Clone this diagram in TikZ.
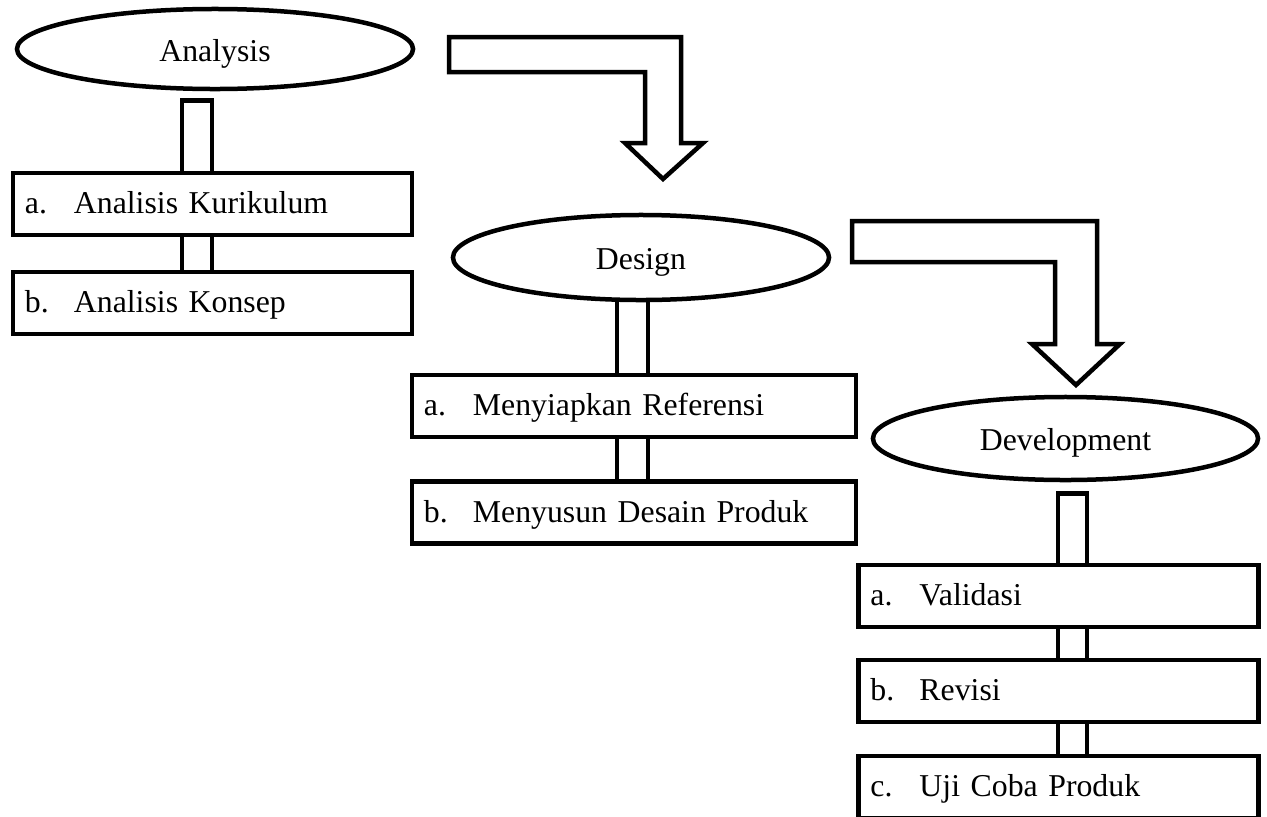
\documentclass[tikz,border=0pt]{standalone}
\usepackage{fontspec}
\setmainfont{Liberation Serif}
\usetikzlibrary{positioning, calc, shapes.geometric}

\newcommand{\steplabel}[2]{\makebox[1.225cm][l]{#1}#2}

\begin{document}
\begin{tikzpicture}[x=0.025cm,y=-0.025cm,line width=3.2pt,
  every node/.style={font=\fontsize{22.6}{27}\selectfont},
  phase/.style={ellipse,draw,inner sep=0pt,text height=0.6cm,text depth=0pt},
  stepbox/.style={rectangle,draw,inner ysep=0pt,inner xsep=0.3cm,minimum height=1.55cm,text height=0.475cm,text depth=0pt,text width=#1,align=left},
  bentarrow/.style={draw,line join=miter}]
\clip (0,0) rectangle (1267,816);
% Analysis
\node[phase,minimum width=9.9cm,minimum height=2cm] (ana) at (215,49) {Analysis};
\node[stepbox=9.375cm] (anaA) at (212.5,204) {\steplabel{a.}{Analisis Kurikulum}};
\node[stepbox=9.375cm] (anaB) at (212.5,303) {\steplabel{b.}{Analisis Konsep}};
\draw ($(anaA.north)+(-30.5,0)$) |- ($(ana.south)+(-3,9)$) -- ($(anaA.north)+(-0.5,0)$);
\draw ($(anaA.south)+(-30.5,0)$) -- ($(anaB.north)+(-30.5,0)$) ($(anaA.south)+(-0.5,0)$) -- ($(anaB.north)+(-0.5,0)$);
% Design
\node[phase,minimum width=9.4cm,minimum height=2.125cm] (des) at (641,257.5) {Design};
\node[stepbox=10.5cm] (desA) at (634,406) {\steplabel{a.}{Menyiapkan Referensi}};
\node[stepbox=10.5cm] (desB) at (634,512.5) {\steplabel{b.}{Menyusun Desain Produk}};
\draw ($(desA.north)+(-17,0)$) -- ($(des.south)+(-24,0)$) ($(desA.north)+(14,0)$) -- ($(des.south)+(7,0)$);
\draw ($(desA.south)+(-17,0)$) -- ($(desB.north)+(-17,0)$) ($(desA.south)+(14,0)$) -- ($(desB.north)+(14,0)$);
% Development
\node[phase,minimum width=9.625cm,minimum height=2.075cm] (dev) at (1065.5,438.5) {Development};
\node[stepbox=9.4cm] (devA) at (1058.5,596) {\steplabel{a.}{Validasi}};
\node[stepbox=9.4cm] (devB) at (1058.5,691) {\steplabel{b.}{Revisi}};
\node[stepbox=9.4cm] (devC) at (1058.5,787) {\steplabel{c.}{Uji Coba Produk}};
\draw ($(devA.north)+(-0.5,0)$) |- ($(dev.south)+(21.5,11)$) -- ($(devA.north)+(28.5,0)$);
\draw ($(devA.south)+(-0.5,0)$) -- ($(devB.north)+(-0.5,0)$) ($(devA.south)+(28.5,0)$) -- ($(devB.north)+(28.5,0)$);
\draw ($(devB.south)+(-0.5,0)$) -- ($(devC.north)+(-0.5,0)$) ($(devB.south)+(28.5,0)$) -- ($(devC.north)+(28.5,0)$);
% bent arrows
\draw[bentarrow] (449,37) -- (681,37) -- (681,143) -- (703,143) -- (663,179) -- (625,143) -- (645,143) -- (645,72) -- (449,72) -- cycle;
\draw[bentarrow] (852,221) -- (1097,221) -- (1097,344) -- (1120,344) -- (1076,385) -- (1032,344) -- (1055,344) -- (1055,262) -- (852,262) -- cycle;
\end{tikzpicture}
\end{document}
